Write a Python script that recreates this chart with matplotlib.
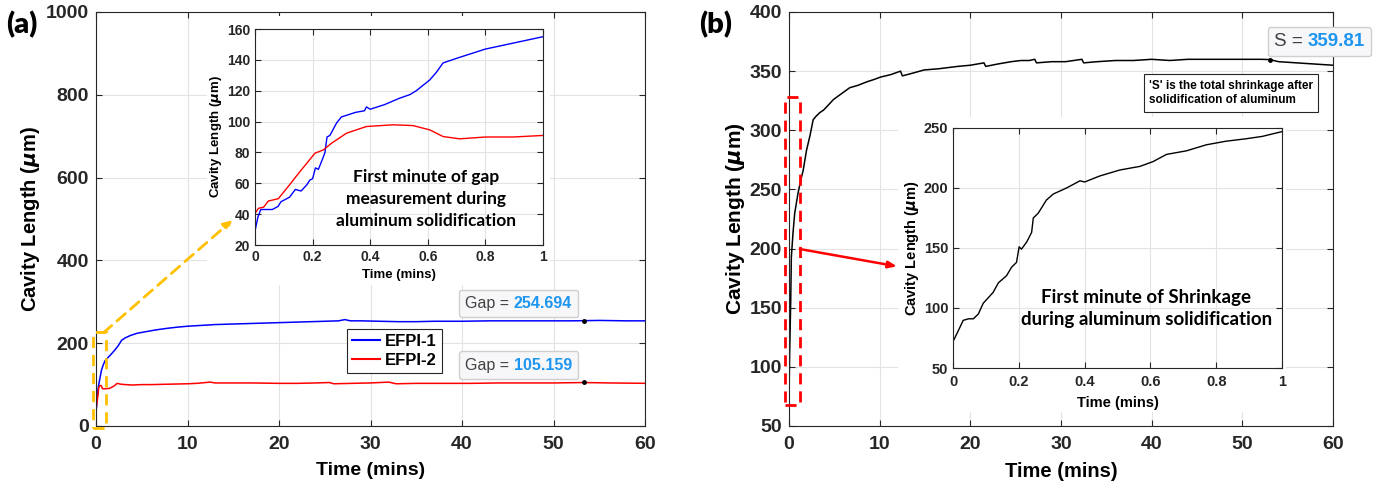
import matplotlib
matplotlib.use("Agg")
import matplotlib.pyplot as plt
from matplotlib.patches import Rectangle
from matplotlib.offsetbox import AnnotationBbox, HPacker, TextArea

plt.rcParams["font.family"] = ["Liberation Sans", "DejaVu Sans"]
plt.rcParams["font.weight"] = "bold"
plt.rcParams["axes.labelweight"] = "bold"
plt.rcParams["mathtext.default"] = "it"

# ---- data: panel (a), full hour ----
efpi1_t = [0, 0.1, 0.2, 0.3, 0.45, 0.6, 0.8, 1.0, 1.3, 1.6, 2.0, 2.4, 2.8, 3.2, 3.8, 4.5,
           5.5, 6.5, 7.8, 9, 10, 11.5, 13, 14.5, 16, 17.5, 19, 20.5, 22, 23.5, 25, 26.5,
           27.2, 27.8, 29, 31, 33, 35, 37, 40, 43, 46, 49, 52, 55, 58, 60.5]
efpi1_v = [30, 60, 85, 100, 118, 135, 148, 158, 165, 172, 182, 193, 207, 213, 219, 224,
           228, 232, 236, 239, 241, 243, 245, 246, 247, 248, 249, 250, 251, 252, 253, 254,
           257, 254, 254, 253, 252, 252, 253, 253, 254, 254, 254, 254, 255, 254, 254]
efpi2_t = [0, 0.1, 0.2, 0.3, 0.4, 0.5, 0.6, 0.7, 1.0, 1.5, 2.0, 2.3, 2.7, 3.2, 4, 5, 6, 8,
           10, 11, 12.5, 13, 15, 17, 20, 22, 24, 25.5, 26, 28, 30, 32, 32.8, 35, 38, 41,
           44, 47, 50, 53.3, 56, 60.5]
efpi2_v = [40, 55, 72, 92, 97, 98, 97, 90, 90, 91, 97, 103, 101, 100, 99, 100, 100, 101,
           102, 103, 106, 104, 104, 104, 103, 103, 104, 105, 102, 103, 104, 106, 102, 103,
           103, 103, 104, 104, 104, 105, 104, 103]

# ---- data: panel (a) inset, first minute ----
in1_t = [0, 0.01, 0.02, 0.04, 0.06, 0.08, 0.09, 0.1, 0.12, 0.14, 0.16, 0.18, 0.19, 0.2,
         0.21, 0.22, 0.235, 0.243, 0.25, 0.26, 0.283, 0.3, 0.35, 0.38, 0.387, 0.4, 0.45,
         0.5, 0.538, 0.56, 0.607, 0.63, 0.653, 0.7, 0.75, 0.8, 0.85, 0.9, 0.95, 1.0]
in1_v = [29, 38, 43, 43, 43, 45, 48, 49, 51, 56, 55, 59, 62, 63, 70, 69, 76, 80, 90, 91,
         99, 103, 106, 107, 109.5, 108, 111, 115, 117.5, 120, 127, 132, 138, 141, 144,
         147, 149, 151, 153, 155]
in2_t = [0, 0.012, 0.03, 0.046, 0.081, 0.12, 0.156, 0.18, 0.208, 0.237, 0.266, 0.318,
         0.387, 0.48, 0.549, 0.607, 0.653, 0.711, 0.8, 0.896, 1.0]
in2_v = [40.5, 43.8, 44.5, 48.5, 50, 59, 67.6, 73, 79.5, 81.6, 86, 92.5, 96.8, 97.9, 97.4,
         94.6, 90.3, 88.8, 90, 90, 91]

tip_t = 53.3
gap_values = [254.694, 105.159]

# ---- data: panel (b), full hour ----
shr_t = [0, 0.07, 0.19, 0.26, 0.44, 0.63, 1.0, 1.3, 1.56, 1.93, 2.3, 2.67, 3.0, 3.4, 3.8,
         4.3, 4.9, 5.8, 6.7, 7.6, 8.6, 9.4, 10.1, 11.2, 12.3, 12.5, 13.5, 14.9, 16.5, 18.6,
         20, 21.5, 21.7, 23, 24.5, 25.6, 26.5, 27.1, 27.3, 29, 30.5, 32.3, 32.5, 34, 36,
         38, 40, 42, 44, 46, 48, 50, 52, 53, 54, 56, 58, 60]
shr_v = [73, 111, 156, 193, 213, 230, 247, 258, 266, 283, 295, 309, 312, 315, 317, 321,
         326, 331, 336, 338, 341, 343, 345, 347, 350, 346, 348, 351, 352, 354, 355, 357,
         354, 356, 358, 359, 359, 360, 357, 358, 358, 360, 357, 358, 359, 359, 360, 359,
         360, 360, 360, 360, 360, 359.81, 358, 357, 356, 355]

# ---- data: panel (b) inset ----
in3_t = [0, 0.016, 0.031, 0.047, 0.062, 0.077, 0.092, 0.122, 0.138, 0.163, 0.178, 0.193,
         0.201, 0.208, 0.224, 0.239, 0.244, 0.259, 0.284, 0.305, 0.345, 0.386, 0.4, 0.446,
         0.507, 0.568, 0.608, 0.649, 0.71, 0.77, 0.83, 0.89, 0.94, 1.0]
in3_v = [72, 81, 89.7, 91, 91, 95, 104, 113, 121, 127, 134, 138, 151, 149, 155, 163, 175,
         179, 190, 195, 200, 206, 205, 210, 215, 218, 222, 228, 231, 236, 239, 241, 243, 247]
s_tip_t = 53.0
s_value = 359.81

W, H = 1380, 483
fig = plt.figure(figsize=(W / 100, H / 100), dpi=100)


def px_rect(x0, y0, x1, y1):
    return [x0 / W, 1 - y1 / H, (x1 - x0) / W, (y1 - y0) / H]


def matlab_style(ax, size, pad):
    ax.grid(True, color="#E3E3E3", lw=0.8)
    ax.set_axisbelow(True)
    ax.tick_params(direction="in", top=True, right=True, length=4, width=0.8,
                   labelsize=size, colors="#262626", pad=pad)
    for s in ax.spines.values():
        s.set_color("#262626")
        s.set_linewidth(0.8)


def data_tip(ax, label, value, pos, size):
    box = HPacker(children=[
        TextArea(label + "\u00a0", textprops=dict(color="#404040", fontsize=size, fontweight="normal")),
        TextArea(value, textprops=dict(color="#1E96F0", fontsize=size, fontweight="bold"))],
        pad=0, sep=0)
    ab = AnnotationBbox(box, pos, xycoords="data", frameon=True, pad=0.5,
                        annotation_clip=False,
                        bboxprops=dict(boxstyle="round,pad=0.45,rounding_size=0.2",
                                       fc="#F7F7F9", ec="#CFCFCF", lw=1))
    ax.add_artist(ab)


ax_a = fig.add_axes(px_rect(96, 12, 645, 426))
ins_a = fig.add_axes(px_rect(255, 29, 543, 245))
ax_b = fig.add_axes(px_rect(789, 12, 1333, 426))
ins_b = fig.add_axes(px_rect(953, 128, 1282, 368))
for a in (ax_a, ax_b):
    a.set_zorder(0)
for a in (ins_a, ins_b):
    a.set_zorder(2)

# white backgrounds behind the insets
for x0, y0, x1, y1 in [(207, 16, 550, 285), (898, 117, 1286, 412)]:
    r = px_rect(x0, y0, x1, y1)
    fig.add_artist(Rectangle((r[0], r[1]), r[2], r[3], transform=fig.transFigure,
                             fc="white", ec="none", zorder=1))

ylab = r"Cavity Length ($\mu$m)"

# ---- panel (a) ----
ax_a.plot(efpi1_t, efpi1_v, color="#0000FF", lw=1.1, label="EFPI-1")
ax_a.plot(efpi2_t, efpi2_v, color="#FF0000", lw=1.1, label="EFPI-2")
ax_a.set_xlim(0, 60)
ax_a.set_ylim(0, 1000)
ax_a.set_xticks(range(0, 61, 10))
ax_a.set_yticks(range(0, 1001, 200))
matlab_style(ax_a, 14, 5)
ax_a.tick_params(axis="x", pad=7)
ax_a.set_xlabel("Time (mins)", fontsize=14, labelpad=7)
ax_a.set_ylabel(ylab, fontsize=14.5, labelpad=3)
leg = ax_a.legend(loc="upper left", bbox_to_anchor=(0.457, 0.234), borderaxespad=0,
                  fontsize=12, fancybox=False, edgecolor="#262626", framealpha=1,
                  handlelength=1.7, handletextpad=0.3, borderpad=0.3, labelspacing=0.25)
leg.get_frame().set_linewidth(0.8)
for ln in leg.get_lines():
    ln.set_linewidth(1.5)
ax_a.add_patch(Rectangle((-0.36, -5), 1.45, 232, fill=False, ec="#FFC000", lw=2,
                         ls=(0, (4, 2.5)), clip_on=False, zorder=5))

for val, ypos in zip(gap_values, [296, 147]):
    ax_a.plot(tip_t, val, "o", ms=2.5, color="k", zorder=6)
    data_tip(ax_a, "Gap =", f"{val:.3f}", (46.2, ypos), 11.5)

ins_a.plot(in1_t, in1_v, color="#0000FF", lw=1.0)
ins_a.plot(in2_t, in2_v, color="#FF0000", lw=1.0)
ins_a.set_xlim(0, 1)
ins_a.set_ylim(20, 160)
ins_a.set_xticks([0, 0.2, 0.4, 0.6, 0.8, 1])
ins_a.set_xticklabels(["0", "0.2", "0.4", "0.6", "0.8", "1"])
ins_a.set_yticks(range(20, 161, 20))
matlab_style(ins_a, 10, 3.5)
ins_a.set_xlabel("Time (mins)", fontsize=9.5, labelpad=4)
ins_a.set_ylabel(ylab, fontsize=9.5, labelpad=2)
ins_a.text(0.594, 50, "First minute of gap\nmeasurement during\naluminum solidification",
           ha="center", va="center", fontsize=12.5, family=["Lato", "DejaVu Sans"],
           fontweight="bold", linespacing=1.45, color="black")
ins_a.annotate("", xy=(14.9, 497), xycoords=ax_a.transData, xytext=(0.8, 225),
               textcoords=ax_a.transData, annotation_clip=False,
               arrowprops=dict(arrowstyle="-|>,head_length=0.5,head_width=0.25",
                               color="#FFC000", lw=2, ls=(0, (4, 2.5)),
                               shrinkA=0, shrinkB=0))

# ---- panel (b) ----
ax_b.plot(shr_t, shr_v, color="black", lw=1.1)
ax_b.set_xlim(0, 60)
ax_b.set_ylim(50, 400)
ax_b.set_xticks(range(0, 61, 10))
ax_b.set_yticks(range(50, 401, 50))
matlab_style(ax_b, 14, 5)
ax_b.tick_params(axis="x", pad=7)
ax_b.set_xlabel("Time (mins)", fontsize=14.5, labelpad=7)
ax_b.set_ylabel(ylab, fontsize=15, labelpad=2)
ax_b.add_patch(Rectangle((-0.4, 68), 1.6, 260, fill=False, ec="#FF0000", lw=2,
                         ls=(0, (4, 2.5)), clip_on=False, zorder=5))
ax_b.plot(s_tip_t, s_value, "o", ms=2.5, color="k", zorder=6)
data_tip(ax_b, "S =", f"{s_value:.2f}", (58.5, 375), 13.5)
ax_b.text(39.7, 331.5, "'S' is the total shrinkage after\nsolidification of aluminum",
          ha="left", va="center", fontsize=8.5, fontweight="bold", linespacing=1.3,
          bbox=dict(boxstyle="square,pad=0.45", fc="white", ec="#262626", lw=0.8))

ins_b.plot(in3_t, in3_v, color="black", lw=1.0)
ins_b.set_xlim(0, 1)
ins_b.set_ylim(50, 250)
ins_b.set_xticks([0, 0.2, 0.4, 0.6, 0.8, 1])
ins_b.set_xticklabels(["0", "0.2", "0.4", "0.6", "0.8", "1"])
ins_b.set_yticks(range(50, 251, 50))
matlab_style(ins_b, 10.5, 3.5)
ins_b.tick_params(axis="x", pad=5)
ins_b.set_xlabel("Time (mins)", fontsize=10.5, labelpad=5)
ins_b.set_ylabel(ylab, fontsize=10.5, labelpad=2)
ins_b.text(0.587, 0.248, "First minute of Shrinkage\nduring aluminum solidification",
           transform=ins_b.transAxes, ha="center", va="center", fontsize=13.5,
           family=["Lato", "DejaVu Sans"], fontweight="bold", linespacing=1.3)
ins_b.annotate("", xy=(11.9, 185), xycoords=ax_b.transData, xytext=(1.2, 199.6),
               textcoords=ax_b.transData, annotation_clip=False,
               arrowprops=dict(arrowstyle="-|>,head_length=0.5,head_width=0.2",
                               color="#FF0000", lw=1.8, shrinkA=0, shrinkB=0))

# panel letters
fig.text(22 / W, 1 - 25 / H, "(a)", ha="center", va="center", fontsize=21,
         family=["Lato", "DejaVu Sans"], fontweight="heavy")
fig.text(716 / W, 1 - 25 / H, "(b)", ha="center", va="center", fontsize=21,
         family=["Lato", "DejaVu Sans"], fontweight="heavy")

fig.savefig("out.png", dpi=100, facecolor="white")
